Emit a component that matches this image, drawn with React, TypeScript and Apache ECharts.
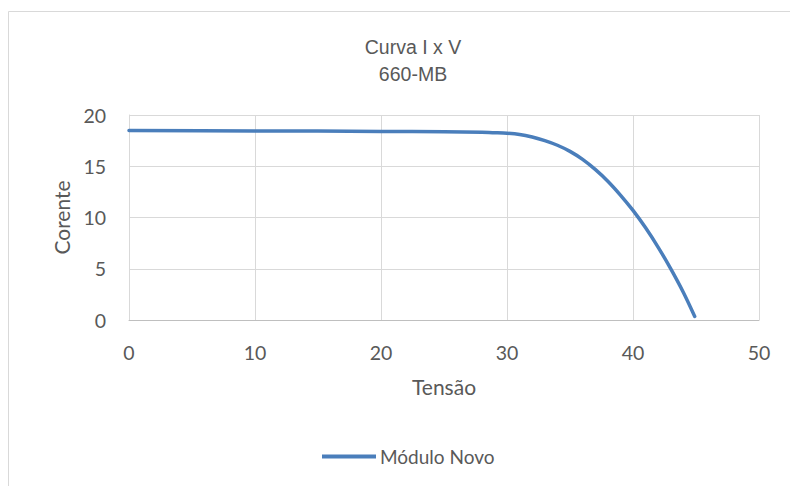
import React, { useEffect, useRef } from "react";
import * as echarts from "echarts";

const voltage = [0, 10, 20, 25, 28, 29, 30, 31, 32, 33, 34, 35, 36, 37, 38, 39, 40, 41, 42, 43, 44, 44.9];
const current = [18.48, 18.45, 18.4, 18.36, 18.31, 18.27, 18.22, 18.1, 17.85, 17.5, 17.05, 16.45, 15.67, 14.69, 13.54, 12.19, 10.69, 8.99, 7.09, 4.99, 2.69, 0.35];
const seriesName = "Módulo Novo";
const titleLines = ["Curva I x V", "660-MB"];
const xAxisName = "Tensão";
const yAxisName = "Corente";

export default function App() {
  const ref = useRef<HTMLDivElement>(null);
  useEffect(() => {
    if (!ref.current) return;
    const chart = echarts.init(ref.current, null, { renderer: "svg" });
    const labelFont = "Lato, 'Noto Sans', sans-serif";
    chart.setOption({
      animation: false,
      backgroundColor: "#ffffff",
      title: {
        text: titleLines.join("\n"),
        left: 408,
        top: 29,
        textAlign: "center",
        textStyle: {
          fontFamily: "'Liberation Sans', Arial, sans-serif",
          fontSize: 19.5,
          fontWeight: "normal",
          color: "#595959",
          lineHeight: 26.7,
        },
      },
      graphic: [
        {
          type: "rect",
          shape: { x: 8.5, y: 11.5, width: 800, height: 500 },
          style: { fill: "none", stroke: "#d9d9d9", lineWidth: 1 },
          silent: true,
        },
      ],
      legend: {
        left: 322,
        top: 447,
        padding: 0,
        icon: "rect",
        itemWidth: 54,
        itemHeight: 4,
        itemGap: 10,
        textStyle: { fontFamily: labelFont, fontSize: 19, color: "#595959", padding: [0, 0, 0, -1] },
        data: [seriesName],
      },
      grid: { left: 129, right: 31, top: 115, bottom: 166 },
      xAxis: {
        type: "value",
        min: 0,
        max: 50,
        interval: 10,
        name: xAxisName,
        nameLocation: "middle",
        nameGap: 56,
        nameTextStyle: { fontFamily: labelFont, fontSize: 21, color: "#595959" },
        axisLine: { show: true, lineStyle: { color: "#bfbfbf", width: 1 } },
        axisTick: { show: false },
        axisLabel: { margin: 22, fontFamily: labelFont, fontSize: 19.5, color: "#595959" },
        splitLine: { show: true, lineStyle: { color: "#d9d9d9", width: 1 } },
      },
      yAxis: {
        type: "value",
        min: 0,
        max: 20,
        interval: 5,
        name: yAxisName,
        nameLocation: "middle",
        nameGap: 57,
        nameTextStyle: { fontFamily: labelFont, fontSize: 21, color: "#595959" },
        axisLine: { show: true, lineStyle: { color: "#d9d9d9", width: 1 } },
        axisTick: { show: false },
        axisLabel: { margin: 23, fontFamily: labelFont, fontSize: 19.5, color: "#595959" },
        splitLine: { show: true, lineStyle: { color: "#d9d9d9", width: 1 } },
      },
      series: [
        {
          name: seriesName,
          type: "line",
          data: voltage.map((v, i) => [v, current[i]]),
          showSymbol: false,
          smooth: 0.3,
          itemStyle: { color: "#4a7ebb" },
          lineStyle: { color: "#4a7ebb", width: 3.5, cap: "round" },
        },
      ],
    });
    return () => chart.dispose();
  }, []);
  return (
    <div
      ref={ref}
      style={{ position: "fixed", left: 0, top: 0, width: 790, height: 486 }}
    />
  );
}
